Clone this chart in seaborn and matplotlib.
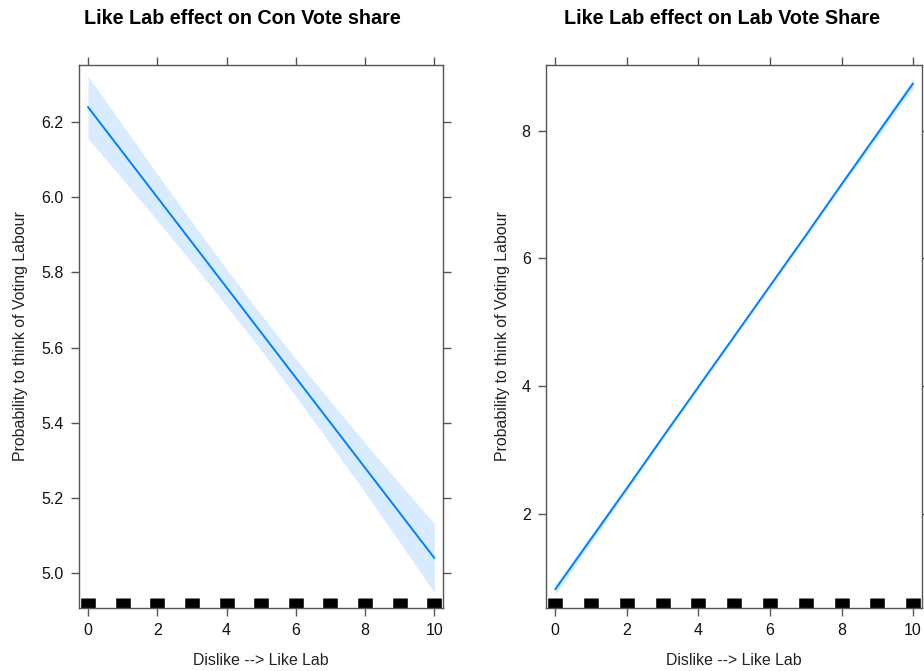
import numpy as np
import pandas as pd
import matplotlib
matplotlib.use("Agg")
import matplotlib.pyplot as plt
import seaborn as sns

# Predictor values (Dislike --> Like Lab scale)
like_lab = [0, 1, 2, 3, 4, 5, 6, 7, 8, 9, 10]

# Effect on Con vote share: fitted values and 95% bounds
con_fit = [6.24, 6.12, 6.00, 5.88, 5.76, 5.64, 5.52, 5.40, 5.28, 5.16, 5.04]
con_lower = [6.157, 6.048, 5.938, 5.826, 5.711, 5.593, 5.470, 5.343, 5.214, 5.082, 4.948]
con_upper = [6.323, 6.192, 6.062, 5.934, 5.809, 5.687, 5.570, 5.457, 5.346, 5.238, 5.132]

# Effect on Lab vote share: fitted values and 95% bounds
lab_fit = [0.82, 1.61, 2.40, 3.20, 3.99, 4.78, 5.57, 6.36, 7.16, 7.95, 8.74]
lab_lower = [0.74, 1.54, 2.35, 3.16, 3.95, 4.74, 5.53, 6.32, 7.11, 7.88, 8.66]
lab_upper = [0.90, 1.68, 2.45, 3.24, 4.03, 4.82, 5.61, 6.40, 7.21, 8.02, 8.82]

# Observed predictor values shown as the rug
rug_values = [0, 1, 2, 3, 4, 5, 6, 7, 8, 9, 10]

titles = ["Like Lab effect on Con Vote share", "Like Lab effect on Lab Vote Share"]
x_label = "Dislike --> Like Lab"
y_label = "Probability to think of Voting Labour"

sns.set_style("white")
plt.rcParams["font.family"] = ["Liberation Sans", "DejaVu Sans"]

LINE = "#0080ff"
FRAME = "#555555"

fig = plt.figure(figsize=(9.24, 6.71), dpi=100)
ax1 = fig.add_axes([79 / 924, 63 / 671, 364 / 924, 543 / 671])
ax2 = fig.add_axes([546 / 924, 63 / 671, 376 / 924, 543 / 671])

panels = [
    (ax1, con_fit, con_lower, con_upper, (4.907, 6.352), [5.0, 5.2, 5.4, 5.6, 5.8, 6.0, 6.2], "%.1f", -0.140, titles[0], 242),
    (ax2, lab_fit, lab_lower, lab_upper, (0.527, 9.03), [2, 4, 6, 8], "%d", -0.097, titles[1], 722),
]

for ax, fit, lo, hi, ylim, yticks, fmt, ylab_x, title, title_x in panels:
    df = pd.DataFrame({"x": like_lab, "fit": fit, "lo": lo, "hi": hi})
    ax.fill_between(df["x"], df["lo"], df["hi"], color=LINE, alpha=0.15, linewidth=0)
    sns.lineplot(data=df, x="x", y="fit", ax=ax, color=LINE, linewidth=1.4)
    sns.rugplot(x=rug_values, ax=ax, height=0.019, color="black", linewidth=10.5, expand_margins=False)

    ax.set_xlim(-0.26, 10.25)
    ax.set_ylim(*ylim)
    ax.set_xticks([0, 2, 4, 6, 8, 10])
    ax.set_yticks(yticks)
    ax.yaxis.set_major_formatter(matplotlib.ticker.FormatStrFormatter(fmt))
    ax.tick_params(axis="both", which="major", direction="out", length=6, width=1,
                   color=FRAME, labelsize=11.5, labelcolor="#111111",
                   top=True, right=True, bottom=True, left=True,
                   labeltop=False, labelright=False, pad=5)
    for sp in ax.spines.values():
        sp.set_color(FRAME)
        sp.set_linewidth(1.0)

    ax.set_xlabel(x_label, fontsize=11.4, color="#222222")
    ax.set_ylabel(y_label, fontsize=11.4, color="#222222")
    ax.xaxis.set_label_coords(0.5, -0.083)
    ax.yaxis.set_label_coords(ylab_x, 0.5)

    fig.text(title_x / 924, 1 - 19 / 671, title, ha="center", va="center",
             fontsize=14.2, fontweight="bold", color="black")

fig.savefig("out.png", dpi=100)
